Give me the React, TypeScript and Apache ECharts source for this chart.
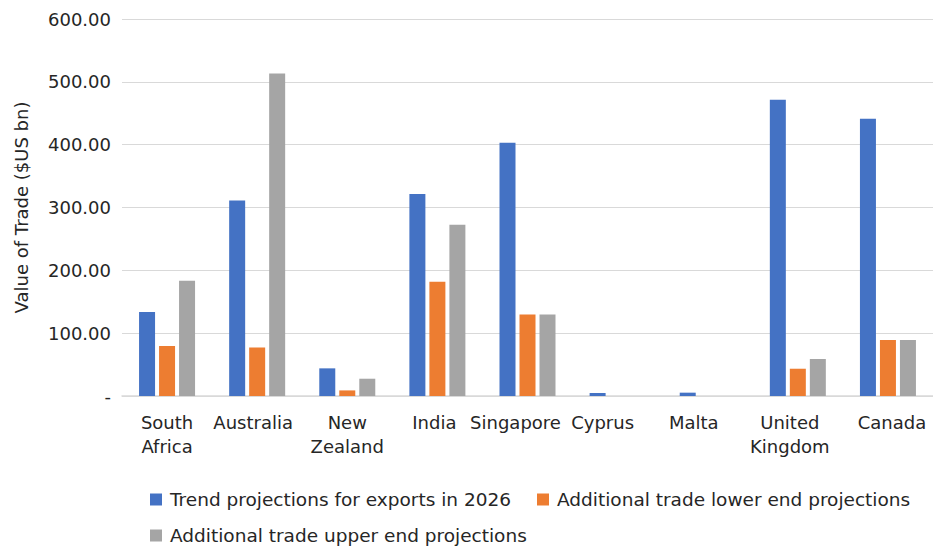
import React, { useEffect, useRef } from "react";
import * as echarts from "echarts";

const categories = ["South Africa", "Australia", "New Zealand", "India", "Singapore", "Cyprus", "Malta", "United Kingdom", "Canada"];
const trendExports2026 = [133.7, 311, 44, 321.4, 403, 4.8, 5.3, 471.4, 441.2];
const lowerEnd = [79.6, 77.3, 8.9, 181.9, 129.9, 0, 0, 43.4, 89.1];
const upperEnd = [183.5, 513.3, 27.5, 272.6, 129.9, 0, 0, 58.9, 89.1];
const seriesNames = [
  "Trend projections for exports in 2026",
  "Additional trade lower end projections",
  "Additional trade upper end projections",
];
const yTicks = { min: 0, max: 600, interval: 100 };

// horizontal nudges of category labels (px, negative = left), style only
const labelShift = [0, -4, 0, -3, -12, -15, -14, -8, 4];

const FONT = "'DejaVu Sans', sans-serif";
const TEXT = "#262626";

export default function App() {
  const ref = useRef<HTMLDivElement>(null);
  useEffect(() => {
    if (!ref.current) return;
    const chart = echarts.init(ref.current, null, { renderer: "svg" });
    const colors = ["#4472C4", "#ED7D31", "#A5A5A5"];
    const values = [trendExports2026, lowerEnd, upperEnd];
    const legendBase = {
      itemWidth: 12,
      itemHeight: 12,
      itemGap: 26,
      icon: "rect",
      textStyle: { fontFamily: FONT, fontSize: 18.5, color: TEXT, padding: [0, 0, 0, 3] },
    };
    chart.setOption({
      animation: false,
      color: colors,
      grid: { left: 122, top: 19, width: 815, height: 377, containLabel: false },
      legend: [
        { ...legendBase, left: 145, top: 485, data: [seriesNames[0], seriesNames[1]] },
        { ...legendBase, left: 145, top: 521, data: [seriesNames[2]] },
      ],
      xAxis: {
        type: "category",
        data: categories.map((c, i) => ({
          value: c,
          textStyle: {
            padding: labelShift[i] < 0 ? [0, -2 * labelShift[i], 0, 0] : [0, 0, 0, 2 * labelShift[i]],
          },
        })),
        axisLine: { show: true, lineStyle: { color: "#d9d9d9", width: 1.5 } },
        axisTick: { show: false },
        axisLabel: {
          interval: 0,
          margin: 14,
          fontFamily: FONT,
          fontSize: 18,
          lineHeight: 24,
          color: TEXT,
          formatter: (v: string) => v.replace(" ", "\n"),
        },
      },
      yAxis: {
        type: "value",
        min: yTicks.min,
        max: yTicks.max,
        interval: yTicks.interval,
        name: "Value of Trade ($US bn)",
        nameLocation: "middle",
        nameGap: 92,
        nameTextStyle: { fontFamily: FONT, fontSize: 18, color: TEXT },
        axisLine: { show: false },
        axisTick: { show: false },
        splitLine: { lineStyle: { color: "#d9d9d9", width: 1.2 } },
        axisLabel: {
          margin: 11,
          fontFamily: FONT,
          fontSize: 18,
          color: TEXT,
          formatter: (v: number) => (v === 0 ? "-" : v.toFixed(2)),
        },
      },
      series: seriesNames.map((name, i) => ({
        name,
        type: "bar",
        data: values[i],
        barWidth: 16,
        barGap: "25%",
        itemStyle: { color: colors[i] },
      })),
    });
    return () => chart.dispose();
  }, []);
  return <div ref={ref} style={{ position: "fixed", left: 0, top: 0, width: 933, height: 546, background: "#fff" }} />;
}
